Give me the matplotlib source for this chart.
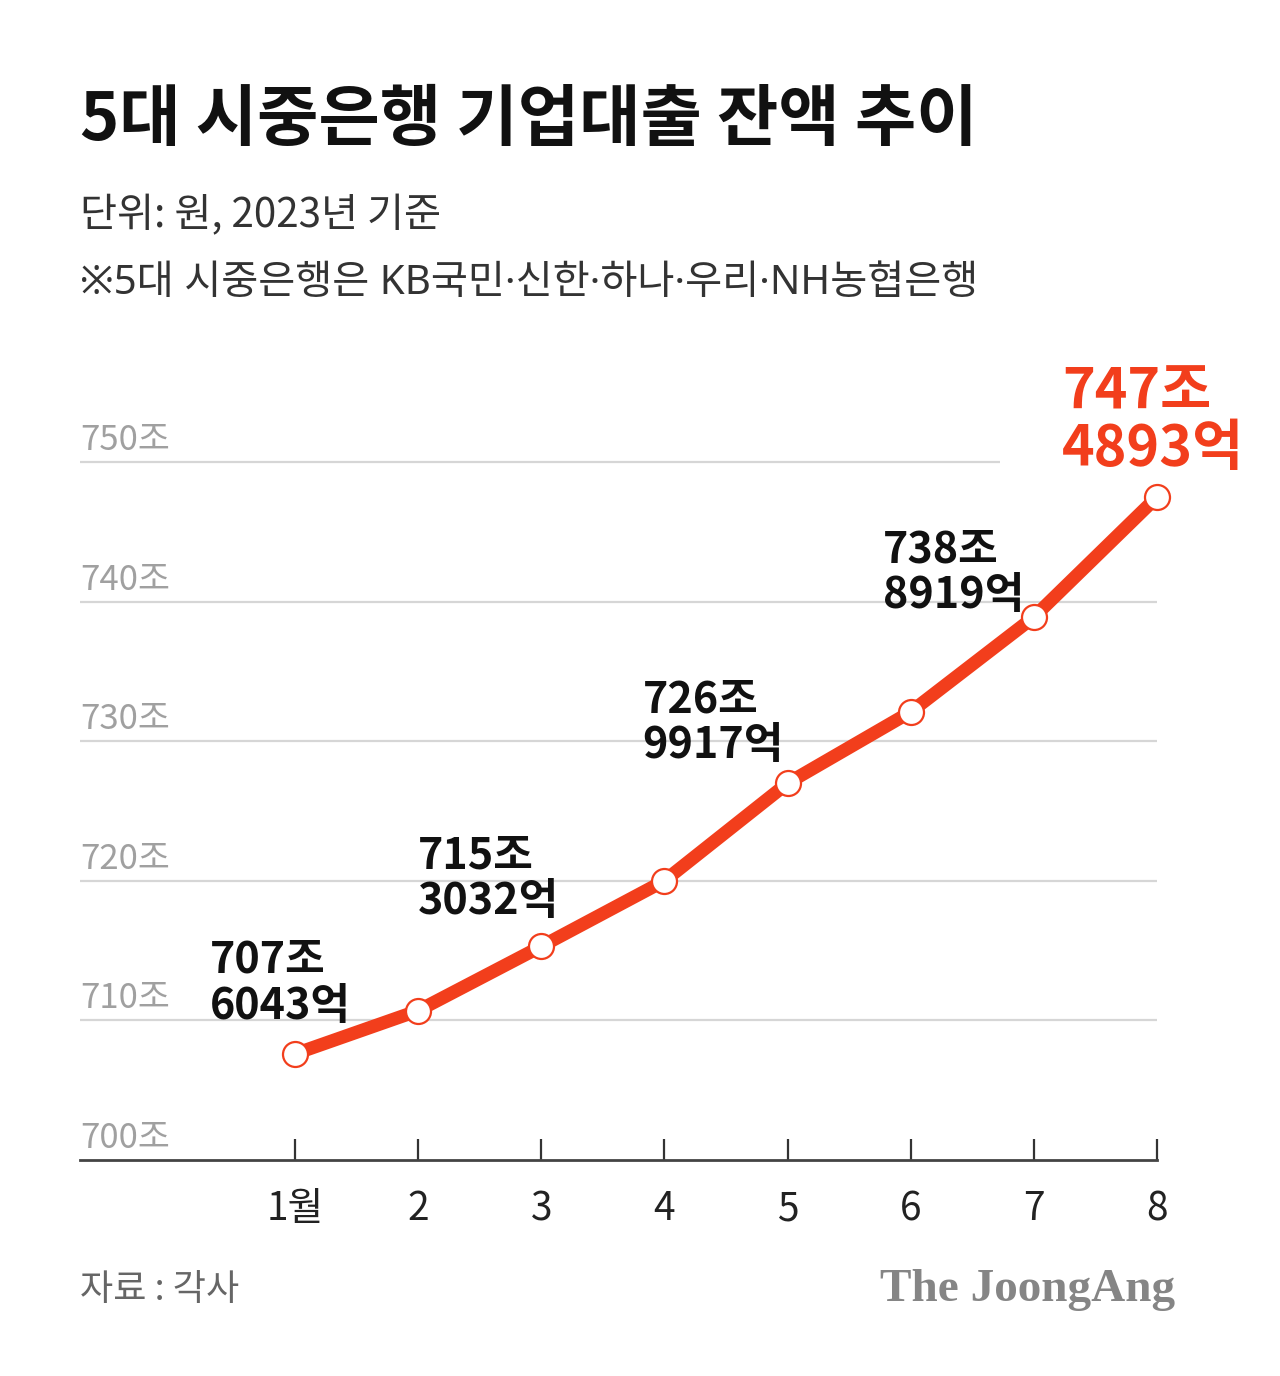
import matplotlib
matplotlib.use("Agg")
import matplotlib.pyplot as plt
import matplotlib.transforms as mtransforms

plt.rcParams['font.family'] = ['Noto Sans CJK KR', 'DejaVu Sans']

# ---- data ----
months = [1, 2, 3, 4, 5, 6, 7, 8]
month_labels = ["1월", "2", "3", "4", "5", "6", "7", "8"]
balance = [707.6043, 710.7, 715.3032, 720.0, 726.9917, 732.1, 738.8919, 747.4893]  # 조 원
label_months = [1, 3, 5, 7]
label_texts = ["707조\n6043억", "715조\n3032억", "726조\n9917억", "738조\n8919억"]
label_offsets = [(-85, 71), (-123, 68), (-145, 61), (-151, 45)]
last_label = "747조\n4893억"
y_ticks = [700, 710, 720, 730, 740, 750]
y_tick_labels = ["700조", "710조", "720조", "730조", "740조", "750조"]

title = "5대 시중은행 기업대출 잔액 추이"
subtitle1 = "단위: 원, 2023년 기준"
subtitle2 = "※5대 시중은행은 KB국민·신한·하나·우리·NH농협은행"
source = "자료 : 각사"
brand = "The JoongAng"

RED = "#f23e1c"
W, H = 1280, 1376
fig = plt.figure(figsize=(W / 100, H / 100), dpi=100)
fig.patch.set_facecolor("white")

ax_left_px, ax_right_px = 80, 1157
ax_bottom_px = 1160
px_per_unit = 13.96
ymin, ymax = 700, 755
ax_top_px = ax_bottom_px - (ymax - ymin) * px_per_unit
ax = fig.add_axes([ax_left_px / W, 1 - ax_bottom_px / H,
                   (ax_right_px - ax_left_px) / W, (ax_bottom_px - ax_top_px) / H])
step_px = 123.14
xmin = 1 - (295 - ax_left_px) / step_px
ax.set_xlim(xmin, 8)
ax.set_ylim(ymin, ymax)

for s in ["top", "right", "left"]:
    ax.spines[s].set_visible(False)
ax.spines["bottom"].set_color("#444444")
ax.spines["bottom"].set_linewidth(2.0)
ax.set_yticks([])
ax.set_xticks(months)
ax.set_xticklabels(month_labels, fontsize=28, color="#222222")
ax.tick_params(axis="x", direction="in", length=15, width=1.6, color="#333333", pad=21)

# gridlines
grid_end_top = xmin + (1000 - ax_left_px) / step_px
for v in y_ticks[1:]:
    xe = grid_end_top if v == y_ticks[-1] else 8
    ax.hlines(v, xmin, xe, color="#d6d6d6", linewidth=1.6, zorder=1)

# y labels
trans = mtransforms.blended_transform_factory(ax.transAxes, ax.transData)
for v, lab in zip(y_ticks, y_tick_labels):
    ax.annotate(lab, xy=(0, v), xycoords=trans, xytext=(0, 12), textcoords="offset pixels",
                ha="left", va="baseline", fontsize=25, color="#a0a0a0")

# line
ax.plot(months, balance, color=RED, linewidth=9.5, solid_capstyle="round", zorder=3, clip_on=False)
ax.plot(months, balance, linestyle="none", marker="o", markersize=18, markerfacecolor="white",
        markeredgecolor=RED, markeredgewidth=1.6, zorder=4, clip_on=False)

# value labels
for m, t, (dx, dy) in zip(label_months, label_texts, label_offsets):
    ax.annotate(t, xy=(m, balance[months.index(m)]), xytext=(dx, dy), textcoords="offset pixels",
                ha="left", va="center", fontsize=31, fontweight="bold", color="#111111",
                linespacing=1.05, annotation_clip=False)
ax.annotate(last_label, xy=(months[-1], balance[-1]), xytext=(-95, 76), textcoords="offset pixels",
            ha="left", va="center", fontsize=40, fontweight="bold", color=RED,
            linespacing=1.02, annotation_clip=False)

# header texts
fig.text(80 / W, 1 - 120 / H, title, ha="left", va="center", fontsize=48, fontweight="heavy", color="#111111")
fig.text(80 / W, 1 - 216 / H, subtitle1, ha="left", va="center", fontsize=29, color="#333333")
fig.text(80 / W, 1 - 284 / H, subtitle2, ha="left", va="center", fontsize=29, color="#333333",
         family=["Noto Sans", "Noto Sans CJK KR", "DejaVu Sans"])

# footer
fig.text(80 / W, 1 - 1290 / H, source, ha="left", va="center", fontsize=26, color="#666666")
fig.text(1175 / W, 1 - 1290 / H, brand, ha="right", va="center", fontsize=34, fontweight="bold",
         color="#858585", family=["Liberation Serif", "DejaVu Serif"])

fig.savefig("out.png", dpi=100, facecolor="white")
